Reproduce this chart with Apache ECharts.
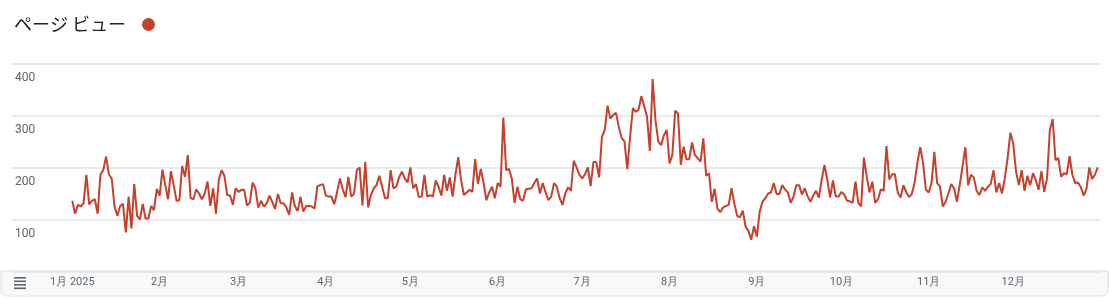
<!DOCTYPE html>
<html>
<head>
<meta charset="utf-8">
<script src="https://cdn.jsdelivr.net/npm/echarts@6/dist/echarts.min.js"></script>
<style>
html,body{margin:0;padding:0;background:#fff;}
#chart{width:1109px;height:299px;}
</style>
</head>
<body>
<div id="chart"></div>
<script>
// Daily page views, 2025
const jan = [137,112,129,126,132,187,130,137,140,112,188,196,222,188,179,126,108,127,131,76,145,84,169,108,101,131,103,103,127,119,160];
const feb = [147,197,167,140,194,167,137,138,204,183,225,142,140,159,151,140,151,174,127,161,112,177,196,185,148,147,129,161];
const mar = [154,158,158,128,133,172,161,124,137,126,132,147,135,121,150,132,132,124,110,153,127,117,145,116,127,127,126,122,165,167,169];
const apr = [147,145,145,130,154,180,159,144,183,145,150,196,201,128,212,124,148,161,167,185,164,142,142,196,161,164,182,193,180,172];
const may = [201,161,169,144,145,187,145,148,145,176,164,147,187,156,182,145,187,221,177,148,153,158,154,217,169,198,171,138,153,164,142];
const jun = [171,164,297,196,198,180,133,164,140,137,159,160,161,171,180,151,171,153,138,145,171,164,142,129,151,163,156,214,201,187];
const jul = [180,188,201,165,212,211,182,260,273,320,295,302,306,279,258,251,198,260,315,308,312,338,319,299,233,371,292,251,244,263,273];
const aug = [209,225,310,305,206,241,217,217,249,225,219,212,257,185,190,135,160,122,115,124,127,129,161,132,108,105,118,87,79,62,88];
const sep = [68,116,135,142,151,153,171,150,150,167,159,153,133,145,167,167,149,161,146,135,147,156,143,177,206,177,143,176,145,145];
const oct = [154,149,137,136,133,174,133,126,220,183,153,174,133,140,159,156,242,178,188,188,153,143,167,154,144,150,172,211,240,209,158];
const nov = [153,171,231,171,164,126,135,151,169,161,135,167,203,240,167,187,182,156,148,163,156,164,169,196,153,171,151,180,219,268];
const dec = [247,193,167,196,156,185,167,190,177,158,194,154,180,273,294,215,219,183,190,188,223,187,171,172,163,147,160,201,179,187,201];

const months = [jan,feb,mar,apr,may,jun,jul,aug,sep,oct,nov,dec];
const monthLabels = ['1月 2025','2月','3月','4月','5月','6月','7月','8月','9月','10月','11月','12月'];
const yTicks = [100,200,300,400];
const title = 'ページ ビュー';

// build day-index data
const monthStarts = [];
const series = [];
let idx = 0;
months.forEach(m => { monthStarts.push(idx); m.forEach(v => { series.push([idx, v]); idx++; }); });

const chart = echarts.init(document.getElementById('chart'), null, {renderer:'canvas'});
const labelColor = '#5f6368';
const red = '#c5402d';

chart.setOption({
  animation:false,
  title:{
    text:title, left:14, top:15, padding:0,
    textStyle:{fontFamily:'Noto Sans CJK JP', fontSize:18, fontWeight:'normal', color:'#202124'}
  },
  graphic:[
    {type:'circle', shape:{cx:148.5, cy:24.5, r:6.5}, style:{fill:red}},
    {type:'rect', shape:{x:1, y:271, width:1107, height:25, r:[0,0,6,6]}, style:{fill:'#f8f9fa', stroke:'#dadce0', lineWidth:1}, z:-1},
    {type:'rect', shape:{x:14, y:277, width:12, height:1.6}, style:{fill:'#5f6368'}},
    {type:'rect', shape:{x:14, y:280.5, width:12, height:1.6}, style:{fill:'#5f6368'}},
    {type:'rect', shape:{x:14, y:284, width:12, height:1.6}, style:{fill:'#5f6368'}},
    {type:'rect', shape:{x:14, y:287.5, width:12, height:1.6}, style:{fill:'#5f6368'}}
  ],
  grid:{left:12, right:9, top:64, bottom:27, containLabel:false},
  xAxis:{
    type:'value', min:-21.4, max:364.8,
    axisLine:{show:false}, axisTick:{show:false}, splitLine:{show:false},
    axisLabel:{
      customValues:monthStarts,
      formatter:(v)=>{ const i = monthStarts.indexOf(v); return i>=0 ? monthLabels[i] : ''; },
      color:labelColor, fontFamily:'Roboto', fontSize:11, margin:5, align:'center'
    }
  },
  yAxis:{
    type:'value', min:0, max:400, interval:100,
    axisLine:{show:false}, axisTick:{show:false},
    splitLine:{lineStyle:{color:'#e3e3e3', width:1.5}},
    axisLabel:{
      inside:true, margin:0, align:'left', verticalAlign:'top', padding:[8,0,0,3],
      formatter:(v)=> yTicks.includes(v) ? String(v) : '',
      color:labelColor, fontFamily:'Roboto', fontSize:12
    }
  },
  series:[{
    type:'line', data:series, showSymbol:false, symbol:'none',
    lineStyle:{color:red, width:2}, itemStyle:{color:red}, z:3
  }]
});
</script>
</body>
</html>
